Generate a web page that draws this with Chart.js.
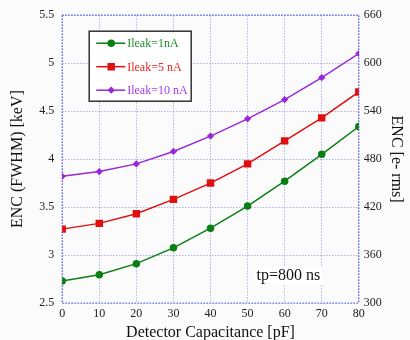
<!DOCTYPE html>
<html>
<head>
<meta charset="utf-8">
<script src="https://cdn.jsdelivr.net/npm/chart.js@4"></script>
<style>
  html, body { margin: 0; padding: 0; background: #fbfbfb; }
  #wrap { width: 410px; height: 340px; }
</style>
</head>
<body>
<div id="wrap"><canvas id="myChart" width="410" height="340"></canvas></div>
<script>
// detector capacitance in pF
const capacitance = [0, 10, 20, 30, 40, 50, 60, 70, 80];
// ENC (FWHM) in keV, one list per leakage current
const enc1nA = [2.73, 2.795, 2.91, 3.075, 3.28, 3.51, 3.77, 4.05, 4.34];
const enc5nA = [3.27, 3.33, 3.43, 3.58, 3.75, 3.95, 4.19, 4.43, 4.70];
const enc10nA = [3.82, 3.87, 3.95, 4.08, 4.24, 4.42, 4.62, 4.85, 5.10];
const seriesLabels = ['Ileak=1nA', 'Ileak=5 nA', 'Ileak=10 nA'];
const keVRange = [2.5, 5.5];
const electronRange = [300, 660];
const noteText = 'tp=800 ns';

const serif = "'Liberation Serif', 'DejaVu Serif', serif";
const gridColor = 'rgba(120, 120, 230, 0.55)';

function toPoints(values) {
    return capacitance.map((c, i) => ({ x: c, y: values[i] }));
}

// legend box drawn inside the plot, like the original
const boxLegend = {
    id: 'boxLegend',
    afterDraw(chart) {
        const ctx = chart.ctx;
        const area = chart.chartArea;
        const left = area.left + 27;
        const top = area.top + 16;
        const w = 102, h = 70;
        ctx.save();
        ctx.fillStyle = '#ffffff';
        ctx.fillRect(left, top, w, h);
        ctx.strokeStyle = '#333333';
        ctx.lineWidth = 1.5;
        ctx.strokeRect(left, top, w, h);
        ctx.font = '12px ' + serif;
        ctx.textBaseline = 'middle';
        chart.data.datasets.forEach((ds, i) => {
            const y = top + 12 + i * 23.5;
            ctx.strokeStyle = ds.borderColor;
            ctx.lineWidth = 1.5;
            ctx.beginPath();
            ctx.moveTo(left + 7, y);
            ctx.lineTo(left + 36, y);
            ctx.stroke();
            ctx.fillStyle = ds.borderColor;
            Chart.helpers.drawPoint(ctx, {
                pointStyle: ds.pointStyle,
                radius: ds.pointRadius,
                borderWidth: 1
            }, left + 22, y);
            ctx.fillStyle = ds.legendText;
            ctx.fillText(ds.label, left + 38, y + 1);
        });
        ctx.restore();
    }
};

// "tp=800 ns" note with white background, placed through the scales
const noteLabel = {
    id: 'noteLabel',
    afterDatasetsDraw(chart) {
        const ctx = chart.ctx;
        const x = chart.scales.x.getPixelForValue(61);
        const y = chart.scales.y.getPixelForValue(2.78);
        ctx.save();
        ctx.font = '16px ' + serif;
        const tw = ctx.measureText(noteText).width;
        ctx.fillStyle = '#ffffff';
        ctx.fillRect(x - tw / 2 - 2, y - 9, tw + 4, 18);
        ctx.fillStyle = '#111111';
        ctx.textAlign = 'center';
        ctx.textBaseline = 'middle';
        ctx.fillText(noteText, x, y);
        ctx.restore();
    }
};

// dotted blue frame around the plot
const plotFrame = {
    id: 'plotFrame',
    beforeDatasetsDraw(chart) {
        const ctx = chart.ctx;
        const a = chart.chartArea;
        ctx.save();
        ctx.strokeStyle = '#5a5ae6';
        ctx.lineWidth = 1.2;
        ctx.setLineDash([1.5, 1.5]);
        ctx.strokeRect(a.left, a.top, a.right - a.left, a.bottom - a.top);
        ctx.restore();
    }
};

const trimLabel = v => String(+Number(v).toFixed(2));

const ctx = document.getElementById('myChart').getContext('2d');
new Chart(ctx, {
    type: 'line',
    data: {
        datasets: [
            {
                label: seriesLabels[0],
                data: toPoints(enc1nA),
                borderColor: '#0a7f14',
                backgroundColor: '#0a7f14',
                legendText: '#1f8f2a',
                pointStyle: 'circle',
                pointRadius: 3,
                borderWidth: 1.5
            },
            {
                label: seriesLabels[1],
                data: toPoints(enc5nA),
                borderColor: '#e01010',
                backgroundColor: '#e01010',
                legendText: '#e82424',
                pointStyle: 'rect',
                pointRadius: 4.2,
                borderWidth: 1.5
            },
            {
                label: seriesLabels[2],
                data: toPoints(enc10nA),
                borderColor: '#9a28d8',
                backgroundColor: '#9a28d8',
                legendText: '#a63ae6',
                pointStyle: 'rectRot',
                pointRadius: 2.6,
                borderWidth: 1.5
            }
        ]
    },
    options: {
        responsive: false,
        animation: false,
        layout: { padding: { top: 5, right: 0, left: 8, bottom: -1 } },
        plugins: {
            legend: { display: false },
            tooltip: { enabled: false }
        },
        elements: { point: { borderWidth: 0 }, line: { tension: 0 } },
        scales: {
            x: {
                type: 'linear',
                min: 0,
                max: 80,
                ticks: { stepSize: 10, color: '#222', font: { family: serif, size: 12, lineHeight: 1 }, padding: 5, maxRotation: 0 },
                grid: { color: gridColor, lineWidth: 1, drawTicks: false },
                border: { display: false, dash: [1.5, 1.5] },
                title: { display: true, text: 'Detector Capacitance [pF]', color: '#111', font: { family: serif, size: 16, lineHeight: 1 }, padding: { top: 0, bottom: 0 } }
            },
            y: {
                position: 'left',
                min: keVRange[0],
                max: keVRange[1],
                ticks: { stepSize: 0.5, color: '#222', font: { family: serif, size: 12 }, padding: 8, callback: trimLabel },
                grid: { color: gridColor, lineWidth: 1, drawTicks: false },
                border: { display: false, dash: [1.5, 1.5] },
                title: { display: true, text: 'ENC (FWHM) [keV]', color: '#111', font: { family: serif, size: 16 }, padding: { top: 0, bottom: 4 } }
            },
            y2: {
                position: 'right',
                min: electronRange[0],
                max: electronRange[1],
                ticks: { stepSize: 60, color: '#222', font: { family: serif, size: 12 }, padding: 5 },
                grid: { display: false, drawTicks: false },
                border: { display: false },
                title: { display: true, text: 'ENC [e- rms]', color: '#111', font: { family: serif, size: 16 }, padding: { top: 4, bottom: 0 } }
            }
        }
    },
    plugins: [plotFrame, noteLabel, boxLegend]
});
</script>
</body>
</html>
